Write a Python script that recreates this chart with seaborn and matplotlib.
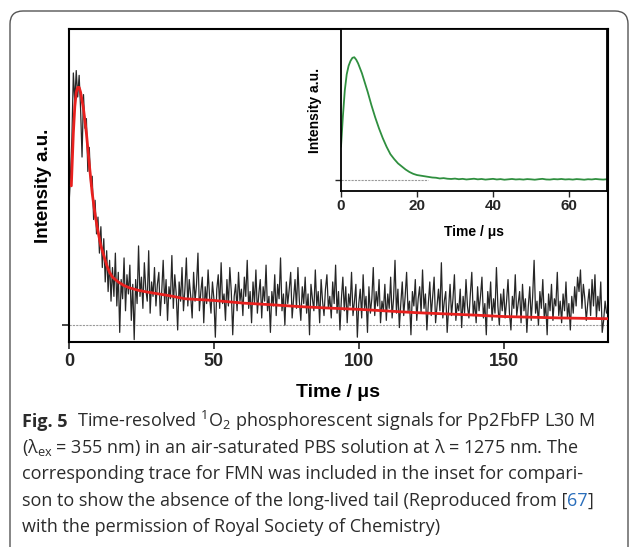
import numpy as np
import matplotlib
matplotlib.use("Agg")
import matplotlib.pyplot as plt
import seaborn as sns
from matplotlib.patches import FancyBboxPatch
from matplotlib.transforms import IdentityTransform

# main trace, sampled every 0.5 us (one row = 10 us)
step = 0.5
signal = [
    0.50, 0.62, 0.78, 1.05, 0.93, 1.06, 0.95, 1.04, 0.90, 0.70, 0.96, 0.82, 0.86, 0.64, 0.74, 0.58, 0.62, 0.44, 0.52, 0.38,
    0.45, 0.30, 0.41, 0.24, 0.36, 0.18, 0.31, 0.14, 0.27, 0.10, 0.24, 0.12, 0.30, 0.08, 0.22, -0.03, 0.19, 0.11, 0.28, 0.06,
    0.21, 0.13, 0.25, 0.02, 0.17, -0.06, 0.19, 0.09, 0.33, 0.12, 0.20, 0.07, 0.26, 0.15, 0.10, 0.31, 0.05, 0.18, 0.12, 0.24,
    0.08, 0.17, 0.22, 0.04, 0.14, 0.27, 0.09, 0.19, 0.02, 0.16, 0.11, 0.29, 0.07, 0.21, 0.13, -0.02, 0.18, 0.10, 0.24, 0.06,
    0.15, 0.28, 0.08, 0.19, 0.12, 0.03, 0.22, 0.10, 0.17, 0.30, 0.06, 0.14, 0.20, 0.01, 0.16, 0.09, 0.23, 0.12, 0.05, 0.18,
    0.11, -0.05, 0.15, 0.21, 0.07, 0.26, 0.09, 0.13, 0.02, 0.19, 0.08, 0.24, 0.14, -0.04, 0.12, 0.17, 0.06, 0.22, 0.10, 0.15,
    0.04, 0.20, 0.12, 0.27, 0.07, 0.14, 0.01, 0.18, 0.09, 0.23, 0.05, 0.13, 0.19, 0.03, 0.16, 0.10, 0.25, 0.06, 0.12, -0.03,
    0.14, 0.08, 0.21, 0.04, 0.17, 0.11, 0.28, 0.06, 0.13, 0.00, 0.18, 0.09, 0.15, 0.22, 0.03, 0.11, 0.19, 0.07, 0.24, 0.10,
    0.02, 0.16, 0.09, 0.20, 0.05, 0.13, -0.04, 0.17, 0.11, 0.06, 0.23, 0.08, 0.14, 0.01, 0.19, 0.10, 0.04, 0.15, 0.21, 0.07,
    0.12, 0.03, 0.18, 0.09, 0.25, 0.05, 0.14, -0.02, 0.11, 0.20, 0.06, 0.16, 0.01, 0.13, 0.08, 0.22, 0.04, 0.10, 0.17, -0.05,
    0.09, 0.15, 0.03, 0.21, 0.07, 0.12, -0.03, 0.16, 0.05, 0.11, 0.24, 0.04, 0.14, 0.08, 0.19, 0.01, 0.10, 0.06, 0.17, 0.02,
    0.13, 0.07, 0.20, 0.03, 0.11, 0.27, 0.05, 0.15, -0.01, 0.09, 0.18, 0.04, 0.12, 0.22, 0.06, 0.10, -0.04, 0.14, 0.08, 0.19,
    0.02, 0.11, 0.16, 0.05, 0.23, 0.07, 0.13, -0.02, 0.09, 0.18, 0.04, 0.12, 0.20, 0.01, 0.08, 0.15, 0.06, 0.26, 0.03, 0.10,
    0.14, -0.03, 0.07, 0.17, 0.04, 0.11, 0.21, 0.02, 0.09, 0.06, 0.15, -0.01, 0.12, 0.05, 0.19, 0.08, 0.03, 0.13, 0.22, 0.04,
    0.10, 0.01, 0.16, 0.06, 0.12, 0.20, 0.03, 0.09, -0.04, 0.14, 0.07, 0.18, 0.02, 0.11, 0.05, 0.24, 0.08, 0.00, 0.13, 0.06,
    0.15, 0.03, 0.10, 0.19, 0.05, -0.02, 0.12, 0.07, 0.21, 0.04, 0.09, 0.14, 0.01, 0.17, 0.06, 0.11, -0.03, 0.08, 0.16, 0.02,
    0.12, 0.27, 0.05, 0.10, 0.00, 0.14, 0.07, 0.19, 0.03, 0.09, -0.04, 0.13, 0.06, 0.17, 0.02, 0.11, 0.08, 0.22, 0.04, 0.10,
    0.01, 0.13, 0.06, 0.18, 0.03, 0.09, -0.02, 0.12, 0.05, 0.16, 0.08, 0.20, 0.14, 0.23, 0.07, 0.17, 0.11, 0.02, 0.09, 0.15,
    0.04, 0.19, 0.08, 0.21, 0.03, 0.12, 0.06, 0.18, -0.03, 0.02, 0.10, 0.05,
]
time = np.arange(len(signal)) * step

# fitted curve
fit_t = [0.8, 1.5, 2, 2.5, 3, 3.5, 4, 5, 6, 7, 8, 9, 10, 11, 12, 13, 14, 15, 17, 19, 21, 24, 27, 30,
         35, 40, 50, 60, 70, 80, 90, 100, 110, 120, 130, 140, 150, 160, 170, 180, 186]
fit_v = [0.58, 0.80, 0.91, 0.97, 0.99, 0.99, 0.97, 0.90, 0.80, 0.67, 0.55, 0.46, 0.39, 0.33, 0.29, 0.25,
         0.22, 0.20, 0.18, 0.165, 0.155, 0.145, 0.138, 0.132, 0.122, 0.11, 0.103, 0.092, 0.085, 0.077,
         0.071, 0.066, 0.059, 0.052, 0.047, 0.042, 0.036, 0.033, 0.030, 0.028, 0.027]

# FMN trace (inset)
fmn_t = [0, 0.5, 1, 1.5, 2, 2.5, 3, 3.5, 4, 4.5, 5, 5.5, 6, 7, 8, 9, 10, 11, 12, 13, 14, 15, 16, 17,
         18, 19, 20, 21, 22, 23, 24, 25]
fmn_v = [0.27, 0.52, 0.73, 0.86, 0.93, 0.97, 0.995, 1.0, 0.98, 0.95, 0.91, 0.87, 0.82, 0.72, 0.61, 0.51,
         0.42, 0.34, 0.27, 0.21, 0.17, 0.135, 0.11, 0.085, 0.065, 0.05, 0.04, 0.035, 0.03, 0.025, 0.02, 0.018]
fmn_tail = [0.012, 0.015, 0.010, 0.008, 0.011, 0.006, 0.009, 0.004, 0.007, 0.010, 0.005, 0.008, 0.003,
            0.006, 0.009, 0.004, 0.007, 0.002, 0.005, 0.008, 0.004, 0.006, 0.003, 0.007, 0.005, 0.002,
            0.006, 0.009, 0.004, 0.003, 0.007, 0.005, 0.008, 0.004, 0.006, 0.003, 0.007, 0.005, 0.002,
            0.006, 0.004, 0.008, 0.005, 0.003, 0.006]
fmn_t = fmn_t + list(range(26, 26 + len(fmn_tail)))
fmn_v = fmn_v + fmn_tail

caption = [
    "  Time-resolved $^{1}$O$_{2}$ phosphorescent signals for Pp2FbFP L30 M",
    r"(λ$_{\mathrm{ex}}$ = 355 nm) in an air-saturated PBS solution at λ = 1275 nm. The",
    "corresponding trace for FMN was included in the inset for compari-",
    "son to show the absence of the long-lived tail (Reproduced from [",
    "with the permission of Royal Society of Chemistry)",
]

sns.set_style("ticks")
plt.rcParams['font.family'] = ['Liberation Sans', 'DejaVu Sans']
plt.rcParams['mathtext.fontset'] = 'custom'
plt.rcParams['mathtext.default'] = 'regular'
plt.rcParams['mathtext.rm'] = 'Open Sans'

W, H = 629, 547
fig = plt.figure(figsize=(W / 100, H / 100), dpi=100)
fig.patch.set_facecolor('white')

# rounded frame
frame = FancyBboxPatch((10, -30), 618, H - 11 + 30, boxstyle="round,pad=0,rounding_size=13",
                       transform=IdentityTransform(), fill=False, edgecolor='#555555', linewidth=1.0)
fig.patches.append(frame)

def px_box(x0, y0, x1, y1):
    return [x0 / W, 1 - y1 / H, (x1 - x0) / W, (y1 - y0) / H]

bold = dict(fontweight='bold', color='black')

# main axes
ax = fig.add_axes(px_box(69, 29, 608, 342))
ax.axhline(0, color='#999999', lw=0.8, ls=(0, (2, 1)), zorder=1)
sns.lineplot(x=time, y=signal, ax=ax, color='#262626', linewidth=0.9, estimator=None, sort=False, zorder=2)
sns.lineplot(x=fit_t, y=fit_v, ax=ax, color='#e8201e', linewidth=2.0, estimator=None, sort=False, zorder=3)
ax.set_xlim(0, 186)
ax.set_ylim(-0.07, 1.233)
ax.set_xticks([0, 50, 100, 150])
ax.set_yticks([0])
ax.set_yticklabels([])
ax.tick_params(direction='out', length=5, width=1.2, pad=3)
for lab in ax.get_xticklabels():
    lab.set_fontsize(13)
    lab.set_fontweight('bold')
for s in ax.spines.values():
    s.set_visible(True)
    s.set_linewidth(1.5)
    s.set_color('black')
ax.set_xlabel("Time / μs", fontsize=14, **bold)
ax.set_ylabel("Intensity a.u.", fontsize=13.5, **bold)
ax.xaxis.set_label_coords(0.5, -0.135)
ax.yaxis.set_label_coords(-0.032, 0.5)

# inset
ins = fig.add_axes(px_box(341, 29, 607, 191))
ins.set_facecolor('white')
ins.plot([0, 23], [0, 0], color='#999999', lw=0.8, ls=(0, (2, 1)), zorder=1)
sns.lineplot(x=fmn_t, y=fmn_v, ax=ins, color='#2f8f3f', linewidth=1.3, estimator=None, sort=False, zorder=2)
ins.set_xlim(0, 70)
ins.set_ylim(-0.09, 1.23)
ins.set_xticks([0, 20, 40, 60])
ins.set_yticks([0])
ins.set_yticklabels([])
ins.tick_params(direction='out', length=4, width=1.0, pad=2)
for lab in ins.get_xticklabels():
    lab.set_fontsize(11)
    lab.set_fontweight('bold')
for s in ins.spines.values():
    s.set_visible(True)
    s.set_linewidth(1.3)
    s.set_color('black')
ins.set_xlabel("Time / μs", fontsize=10, **bold)
ins.set_ylabel("Intensity a.u.", fontsize=10, **bold)
ins.xaxis.set_label_coords(0.5, -0.21)
ins.yaxis.set_label_coords(-0.071, 0.5)

# caption
cap_font = ['Open Sans', 'DejaVu Sans']
cap_size = 13
cap_color = '#2b2b2b'
baselines = [427, 453, 479, 506, 532]
renderer = fig.canvas.get_renderer()
x0 = 22 / W

t0 = fig.text(x0, 1 - baselines[0] / H, "Fig. 5", fontsize=cap_size, fontweight='bold',
              family=cap_font, color=cap_color, va='baseline')
bb = t0.get_window_extent(renderer=renderer)
fig.text(bb.x1 / W, 1 - baselines[0] / H, caption[0], fontsize=cap_size, family=cap_font,
         color=cap_color, va='baseline')
for i in (1, 2, 4):
    fig.text(x0, 1 - baselines[i] / H, caption[i], fontsize=cap_size, family=cap_font,
             color=cap_color, va='baseline')
t3 = fig.text(x0, 1 - baselines[3] / H, caption[3], fontsize=cap_size, family=cap_font,
              color=cap_color, va='baseline')
bb = t3.get_window_extent(renderer=renderer)
t4 = fig.text(bb.x1 / W, 1 - baselines[3] / H, "67", fontsize=cap_size, family=cap_font,
              color='#2a6ebb', va='baseline')
bb = t4.get_window_extent(renderer=renderer)
fig.text(bb.x1 / W, 1 - baselines[3] / H, "]", fontsize=cap_size, family=cap_font,
         color=cap_color, va='baseline')

fig.savefig('out.png', dpi=100)
